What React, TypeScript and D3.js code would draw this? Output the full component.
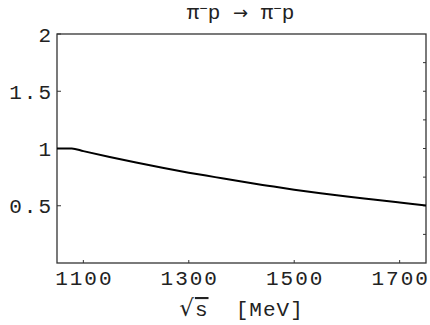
import React from 'react';
import * as d3 from 'd3';

// sqrt(s) in MeV and the ratio
const energies = [1050, 1078, 1100, 1150, 1200, 1250, 1300, 1350, 1400, 1450, 1500, 1550, 1600, 1650, 1700, 1750];
const ratios = [1, 1, 0.977, 0.926, 0.878, 0.832, 0.789, 0.75, 0.711, 0.675, 0.64, 0.609, 0.58, 0.554, 0.528, 0.502];

const xTicks = [1100, 1300, 1500, 1700];
const yTicks = [0.5, 1, 1.5, 2];
const yTickLabels = ['0.5', '1', '1.5', '2'];
const rightTicks = [0.25, 0.5, 0.75, 1, 1.25, 1.5, 1.75];

const W = 430;
const H = 325;
const margin = { top: 34, right: 4, bottom: 62, left: 57 };
const font = '"Liberation Mono", "DejaVu Sans Mono", monospace';

export default function App() {
  const innerW = W - margin.left - margin.right;
  const innerH = H - margin.top - margin.bottom;

  const x = d3.scaleLinear().domain([1050, 1750]).range([0, innerW]);
  const y = d3.scaleLinear().domain([0, 2]).range([innerH, 0]);

  const points = energies.map((e, i) => [e, ratios[i]] as [number, number]);
  const line = d3.line<[number, number]>()
    .x(d => x(d[0]))
    .y(d => y(d[1]))
    .curve(d3.curveMonotoneX);

  const stroke = '#333';

  return (
    <svg width={W} height={H} style={{ position: 'absolute', left: 0, top: 0, background: '#fff' }}>
      <g transform={`translate(${margin.left},${margin.top})`}>
        {/* frame */}
        <rect x={0} y={0} width={innerW} height={innerH} fill="none" stroke={stroke} strokeWidth={1.3} />

        {/* left ticks + labels */}
        {yTicks.map((t, i) => (
          <g key={'y' + t}>
            <line x1={0} x2={4} y1={y(t)} y2={y(t)} stroke={stroke} strokeWidth={1} />
            <text x={-4} y={y(t)} dy="0.36em" textAnchor="end" fontFamily={font} fontSize={21}
              letterSpacing={2} fill="#222">{yTickLabels[i]}</text>
          </g>
        ))}

        {/* right ticks */}
        {rightTicks.map(t => (
          <line key={'r' + t} x1={innerW} x2={innerW - 3} y1={y(t)} y2={y(t)} stroke={stroke} strokeWidth={1} />
        ))}

        {/* bottom ticks + labels */}
        {xTicks.map(t => (
          <g key={'x' + t}>
            <line x1={x(t)} x2={x(t)} y1={innerH} y2={innerH - 3} stroke={stroke} strokeWidth={1} />
            <text x={x(t) + 1} y={innerH + 22} textAnchor="middle" fontFamily={font} fontSize={21}
              letterSpacing={2} fill="#222">{t}</text>
          </g>
        ))}

        {/* curve */}
        <path d={line(points) || ''} fill="none" stroke="#000" strokeWidth={2} />

        {/* title */}
        <text x={innerW / 2 - 1} y={-15} textAnchor="middle" fontFamily={font} fontSize={21} fill="#222">
          <tspan>π</tspan>
          <tspan dy={-6} fontSize={14}>−</tspan>
          <tspan dy={6}>p{'\u00a0'}</tspan>
          <tspan fontFamily="DejaVu Sans" fontSize={18}>→</tspan>
          <tspan>{'\u00a0'}π</tspan>
          <tspan dy={-6} fontSize={14}>−</tspan>
          <tspan dy={6}>p</tspan>
        </text>

        {/* x axis label */}
        <text x={innerW / 2} y={innerH + 53} textAnchor="middle" fontFamily={font} fontSize={21}
          letterSpacing={1} fill="#222">
          <tspan fontFamily="DejaVu Serif" fontSize={23}>√</tspan>
          <tspan textDecoration="overline">s</tspan>
          <tspan>{'\u00a0\u00a0'}[MeV]</tspan>
        </text>
      </g>
    </svg>
  );
}
